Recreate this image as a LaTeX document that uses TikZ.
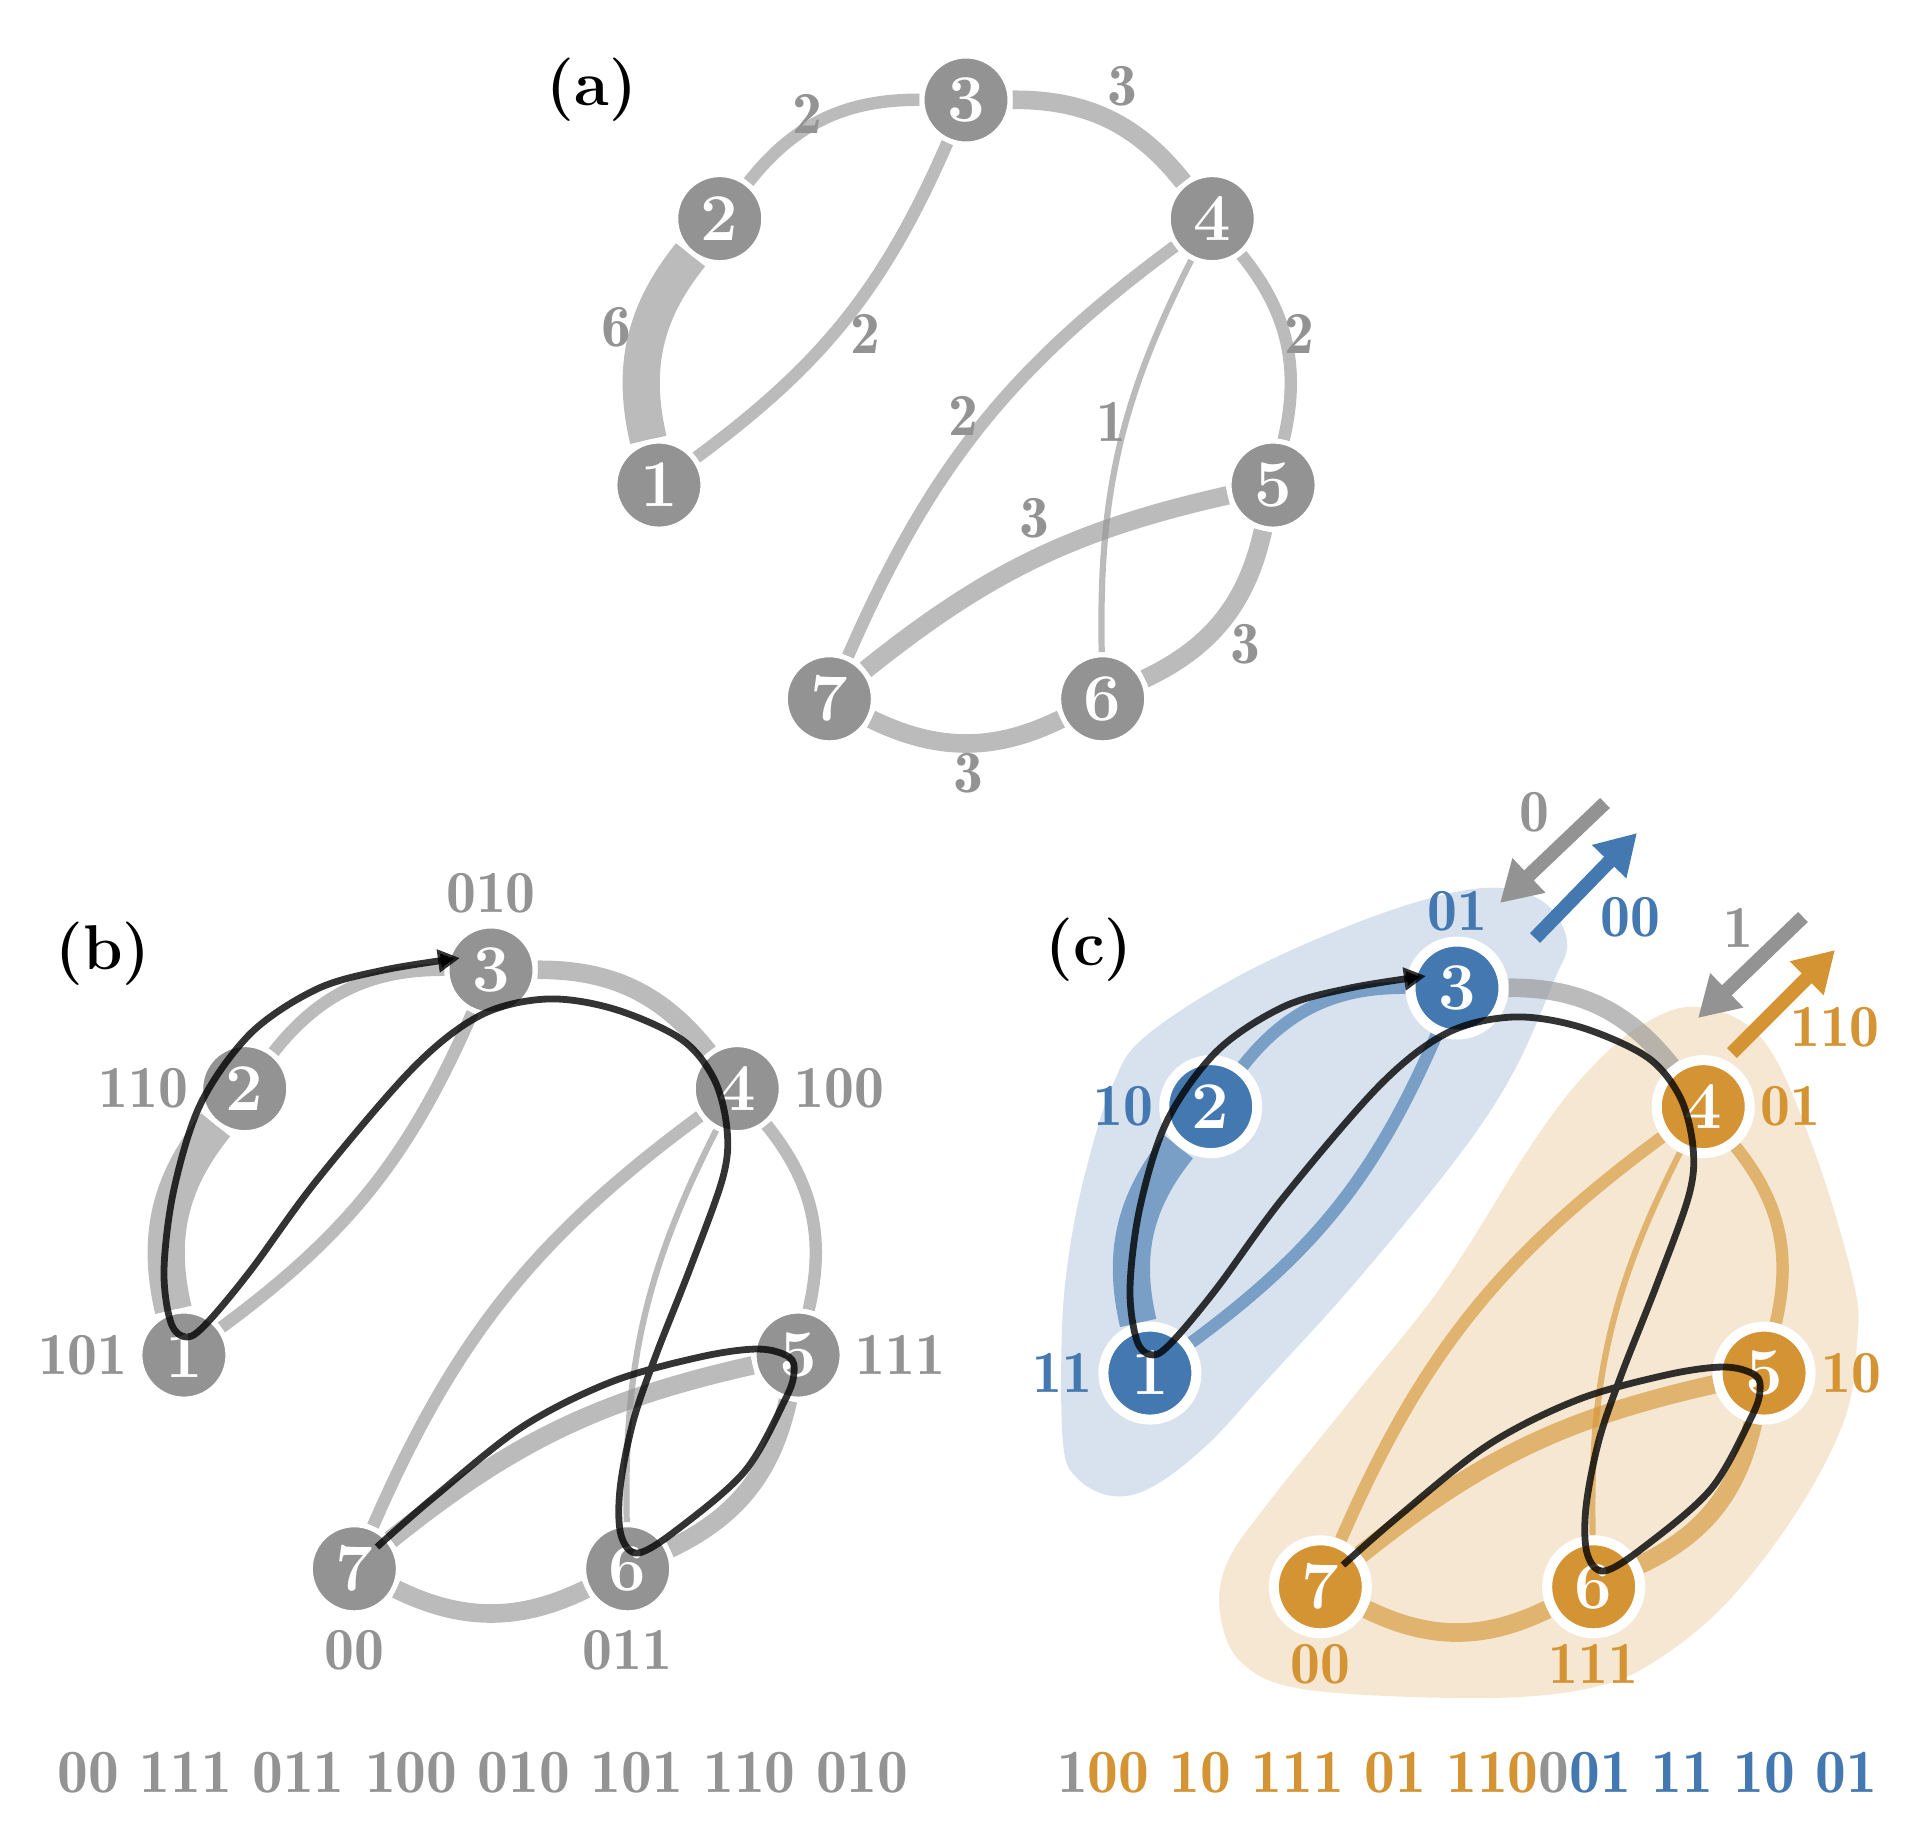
\documentclass[tikz,border=0pt]{standalone}
\usepackage{tikz}
\usetikzlibrary{arrows.meta,positioning}

\definecolor{ngray}{RGB}{147,147,147}
\definecolor{nblue}{RGB}{67,120,176}
\definecolor{norange}{RGB}{212,148,52}

\pgfdeclarelayer{blobs}
\pgfdeclarelayer{edges}
\pgfsetlayers{blobs,edges,main}

\tikzset{
    vtx/.style={circle, fill=#1, draw=white, line width=0.05cm, minimum size=0.88cm, inner sep=0pt,
        text=white, font=\fontsize{19}{19}\selectfont\bfseries},
    vtx/.default=ngray,
    bigvtx/.style={vtx=#1, line width=0.1cm, minimum size=0.93cm},
    link/.style={draw=#1, draw opacity=0.63},
    link/.default=ngray,
    wt/.style={line width=#1*0.062cm},
    lab/.style={text=#1, inner sep=0pt, font=\fontsize{17}{17}\selectfont\fontseries{b}\selectfont},
    lab/.default=ngray,
    walk/.style={draw=black, draw opacity=0.8, line width=0.068cm, -{Triangle[length=0.22cm, width=0.22cm]}},
    flow/.style={draw=#1, line width=0.14cm, -{Triangle[length=0.4cm, width=0.45cm]}},
    panel/.style={inner sep=0pt, font=\fontsize{18}{18}\selectfont\bfseries},
    bits/.style={anchor=base, inner sep=0pt, font=\fontsize{17.5}{17.5}\selectfont\fontseries{b}\selectfont}
}

\begin{document}
\begin{tikzpicture}
    \useasboundingbox (0,0) rectangle (19.24,-18.38);

    % (a) weighted graph
    \node[panel] (pa) at (5.92,-0.90) {(a)};
    \begin{scope}[shift={(9.66,-4.15)}]
        \foreach \i in {1,...,7} {
            \node[vtx] (a\i) at ({90+(3-\i)*360/7}:3.15) {\i};
        }
        \begin{pgfonlayer}{edges}
            \foreach \s/\t/\k/\b in {1/2/6/26, 2/3/2/26, 3/4/3/26, 4/5/2/26, 5/6/3/26, 6/7/3/26,
                    1/3/2/-15, 4/7/2/-15, 4/6/1/-14, 5/7/3/-13} {
                \draw[link, wt=\k] (a\s) to[bend left=\b] (a\t);
            }
        \end{pgfonlayer}
        \node[lab] (a-w12) at (-3.50,0.88) {6};
        \node[lab] (a-w23) at (-1.59,3.01) {2};
        \node[lab] (a-w34) at (1.56,3.29) {3};
        \node[lab] (a-w45) at (3.33,0.81) {2};
        \node[lab] (a-w56) at (2.79,-2.29) {3};
        \node[lab] (a-w67) at (0.02,-3.58) {3};
        \node[lab] (a-w13) at (-1.01,0.81) {2};
        \node[lab] (a-w47) at (-0.03,-0.01) {2};
        \node[lab] (a-w46) at (1.45,-0.07) {1};
        \node[lab] (a-w57) at (0.68,-1.03) {3};
    \end{scope}

    % (b) walk with codes
    \node[panel] (pb) at (1.03,-9.54) {(b)};
    \begin{scope}[shift={(4.91,-12.85)}]
        \foreach \i in {1,...,7} {
            \node[vtx] (b\i) at ({90+(3-\i)*360/7}:3.15) {\i};
        }
        \begin{pgfonlayer}{edges}
            \foreach \s/\t/\k/\b in {1/2/6/26, 2/3/2/26, 3/4/3/26, 4/5/2/26, 5/6/3/26, 6/7/3/26,
                    1/3/2/-15, 4/7/2/-15, 4/6/1/-14, 5/7/3/-13} {
                \draw[link, wt=\k] (b\s) to[bend left=\b] (b\t);
            }
        \end{pgfonlayer}
        \node[lab, above=0.1cm of b3] (b3l) {010};
        \node[lab, left=0.09cm of b2] (b2l) {110};
        \node[lab, right=0.1cm of b4] (b4l) {100};
        \node[lab, left=0.09cm of b1] (b1l) {101};
        \node[lab, right=0.1cm of b5] (b5l) {111};
        \node[lab, below=0.14cm of b7] (b7l) {00};
        \node[lab, below=0.14cm of b6] (b6l) {011};
    \end{scope}

    % (c) clustered codes
    \node[panel] (pc) at (10.89,-9.50) {(c)};
    \begin{scope}[shift={(14.57,-13.03)}]
        \foreach \i in {1,...,7} {
            \ifnum\i<4 \def\nc{nblue}\else\def\nc{norange}\fi
            \node[bigvtx=\nc] (c\i) at ({90+(3-\i)*360/7}:3.15) {\i};
        }
        \begin{pgfonlayer}{edges}
            \foreach \s/\t/\k/\b in {1/2/6/26, 2/3/2/26, 3/4/3/26, 4/5/2/26, 5/6/3/26, 6/7/3/26,
                    1/3/2/-15, 4/7/2/-15, 4/6/1/-14, 5/7/3/-13} {
                \ifnum\t<4 \def\ec{nblue}\else\ifnum\s>3 \def\ec{norange}\else\def\ec{ngray}\fi\fi
                \draw[link=\ec, wt=\k] (c\s) to[bend left=\b] (c\t);
            }
        \end{pgfonlayer}
        \begin{pgfonlayer}{blobs}
            \fill[nblue, opacity=0.21] plot[smooth cycle, tension=0.6] coordinates {
                (0.26,4.15) (0.85,4.02) (1.10,3.62) (0.96,3.20) (0.56,2.30) (0.0,1.45)
                (-1.03,0.19) (-1.92,-0.79) (-2.50,-1.42) (-3.05,-1.84) (-3.45,-1.93) (-3.80,-1.75)
                (-3.94,-1.40) (-3.95,-0.26) (-3.87,0.56) (-3.70,1.37) (-3.44,2.19) (-3.10,2.68)
                (-2.07,3.33) (-0.74,3.90)};
            \fill[norange, opacity=0.22] plot[smooth cycle, tension=0.6] coordinates {
                (2.40,2.96) (3.06,2.63) (3.57,1.53) (3.97,0.19) (4.00,-0.40) (3.88,-1.15)
                (3.43,-2.04) (2.76,-2.93) (2.09,-3.51) (1.42,-3.83) (0.31,-3.95) (-1.48,-3.87)
                (-2.15,-3.60) (-2.37,-3.10) (-2.30,-2.60) (-1.92,-2.04) (-1.03,-0.93) (-0.14,0.19)
                (0.71,1.53) (1.23,2.23) (1.80,2.75)};
        \end{pgfonlayer}
        \node[lab=nblue, above=0.05cm of c3] (c3l) {01};
        \node[lab=nblue, left=0.05cm of c2] (c2l) {10};
        \node[lab=nblue, left=0.05cm of c1] (c1l) {11};
        \node[lab=norange, right=0.05cm of c4] (c4l) {01};
        \node[lab=norange, right=0.05cm of c5] (c5l) {10};
        \node[lab=norange, below=0.05cm of c7] (c7l) {00};
        \node[lab=norange, below=0.05cm of c6] (c6l) {111};
        % split / merge arrows
        \coordinate (g3s) at (1.48,5.00);
        \coordinate (g3e) at (0.43,4.00);
        \coordinate (f3s) at (0.78,3.65);
        \coordinate (f3e) at (1.80,4.70);
        \coordinate (g4s) at (3.46,3.86);
        \coordinate (g4e) at (2.41,2.85);
        \coordinate (f4s) at (2.75,2.50);
        \coordinate (f4e) at (3.78,3.53);
        \draw[flow=ngray] (g3s) -- (g3e);
        \draw[flow=nblue] (f3s) -- (f3e);
        \draw[flow=ngray] (g4s) -- (g4e);
        \draw[flow=norange] (f4s) -- (f4e);
        \node[lab] (g3l) at (0.77,4.91) {0};
        \node[lab=nblue] (f3l) at (1.73,3.86) {00};
        \node[lab] (g4l) at (2.81,3.75) {1};
        \node[lab=norange] (f4l) at (3.78,2.76) {110};
    \end{scope}

    % the walk 7 5 6 4 3 1 2 3 in (b) and (c)
    \foreach \x/\y in {4.91/-12.85, 14.57/-13.03} {
        \begin{scope}[shift={(\x,\y)}]
            \draw[walk] plot[smooth, tension=0.55] coordinates {
                (-1.14,-2.62) (-0.58,-2.13) (0.31,-1.42) (1.20,-0.97) (2.09,-0.72) (2.67,-0.64)
                (2.98,-0.72) (3.03,-0.88) (2.94,-1.15) (2.54,-1.86) (1.87,-2.44) (1.47,-2.68)
                (1.30,-2.50) (1.29,-2.04) (1.42,-1.37) (1.65,-0.70) (2.00,0.19) (2.32,1.08)
                (2.36,1.56) (2.23,2.06) (1.90,2.46) (1.23,2.76) (0.56,2.86) (-0.10,2.70)
                (-0.77,2.18) (-1.74,1.05) (-2.40,0.15) (-2.84,-0.38) (-3.04,-0.52) (-3.20,-0.38)
                (-3.27,0.15) (-3.17,0.96) (-2.90,1.82) (-2.40,2.52) (-1.74,2.96) (-1.07,3.15)
                (-0.31,3.27)};
        \end{scope}
    }

    % codes
    \node[bits, text=ngray] (bcode) at (4.83,-17.92) {00 111 011 100 010 101 110 010};
    \node[bits] (ccode) at (14.67,-17.92) {\textcolor{ngray}{1}\textcolor{norange}{00 10 111 01 110}\textcolor{ngray}{0}\textcolor{nblue}{01 11 10 01}};
\end{tikzpicture}
\end{document}
